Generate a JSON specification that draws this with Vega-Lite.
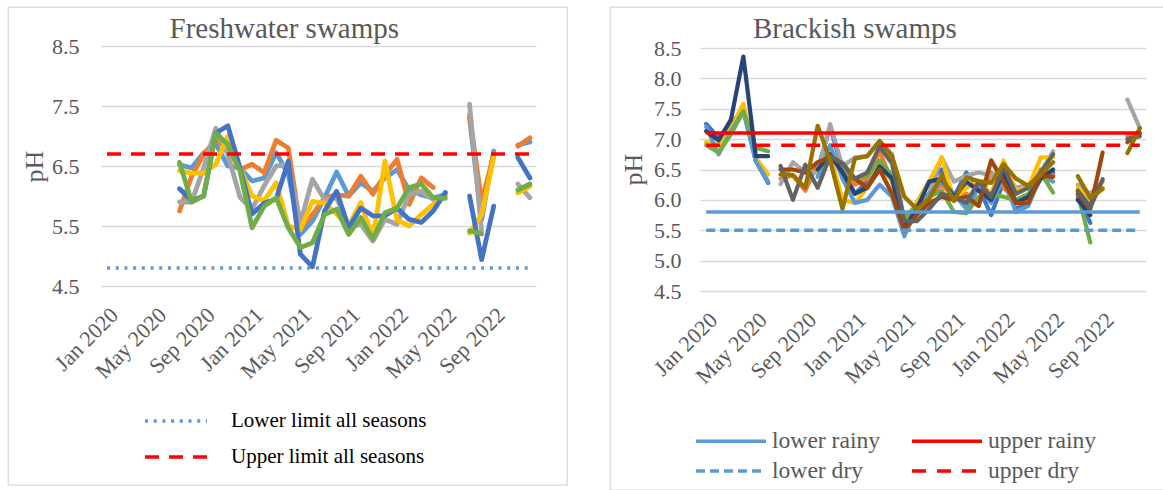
{
"$schema":"https://vega.github.io/schema/vega-lite/v6.json",
"padding":{"left":7,"top":6,"right":0,"bottom":0},
"spacing":41,
"background":"white",
"config":{"view":{"stroke":"#d9d9d9","strokeWidth":1.3},"font":"Liberation Serif"},
"resolve":{"scale":{"color":"independent","strokeDash":"independent"},"legend":{"color":"independent","strokeDash":"independent"}},
"datasets":{
"freshLim":[{"name":"Lower limit all seasons","y":4.8,"a":"Jan 2020","b":"Dec 2022"},{"name":"Upper limit all seasons","y":6.7,"a":"Jan 2020","b":"Dec 2022"}],
"brackLim":[{"name":"lower rainy","y":5.8,"a":"Jan 2020","b":"Dec 2022"},{"name":"upper rainy","y":7.1,"a":"Jan 2020","b":"Dec 2022"},{"name":"lower dry","y":5.5,"a":"Jan 2020","b":"Dec 2022"},{"name":"upper dry","y":6.9,"a":"Jan 2020","b":"Dec 2022"}],
"fresh":[
{"s":"LB","m":"Jul 2020","v":6.52},{"s":"LB","m":"Aug 2020","v":6.47},{"s":"LB","m":"Sep 2020","v":6.72},{"s":"LB","m":"Oct 2020","v":6.87},{"s":"LB","m":"Nov 2020","v":6.5},{"s":"LB","m":"Dec 2020","v":6.47},{"s":"LB","m":"Jan 2021","v":6.25},{"s":"LB","m":"Feb 2021","v":6.3},{"s":"LB","m":"Mar 2021","v":6.72},{"s":"LB","m":"Apr 2021","v":6.36},{"s":"LB","m":"May 2021","v":5.36},{"s":"LB","m":"Jun 2021","v":5.58},{"s":"LB","m":"Jul 2021","v":5.97},{"s":"LB","m":"Aug 2021","v":6.4},{"s":"LB","m":"Sep 2021","v":6.0},{"s":"LB","m":"Oct 2021","v":6.22},{"s":"LB","m":"Nov 2021","v":6.08},{"s":"LB","m":"Dec 2021","v":6.3},{"s":"LB","m":"Jan 2022","v":6.44},{"s":"LB","m":"Feb 2022","v":6.1},{"s":"LB","m":"Mar 2022","v":6.02},{"s":"LB","m":"Apr 2022","v":5.97},{"s":"LB","m":"May 2022","v":6.02},{"s":"LB","m":"Jun 2022","v":null},{"s":"LB","m":"Jul 2022","v":7.3},{"s":"LB","m":"Aug 2022","v":5.6},{"s":"LB","m":"Sep 2022","v":6.75},{"s":"LB","m":"Oct 2022","v":null},{"s":"LB","m":"Nov 2022","v":6.85},{"s":"LB","m":"Dec 2022","v":6.9},
{"s":"OR","m":"Jul 2020","v":5.75},{"s":"OR","m":"Aug 2020","v":6.33},{"s":"OR","m":"Sep 2020","v":6.7},{"s":"OR","m":"Oct 2020","v":6.93},{"s":"OR","m":"Nov 2020","v":6.8},{"s":"OR","m":"Dec 2020","v":6.44},{"s":"OR","m":"Jan 2021","v":6.53},{"s":"OR","m":"Feb 2021","v":6.39},{"s":"OR","m":"Mar 2021","v":6.93},{"s":"OR","m":"Apr 2021","v":6.8},{"s":"OR","m":"May 2021","v":5.47},{"s":"OR","m":"Jun 2021","v":5.69},{"s":"OR","m":"Jul 2021","v":5.97},{"s":"OR","m":"Aug 2021","v":6.02},{"s":"OR","m":"Sep 2021","v":6.0},{"s":"OR","m":"Oct 2021","v":6.33},{"s":"OR","m":"Nov 2021","v":6.03},{"s":"OR","m":"Dec 2021","v":6.36},{"s":"OR","m":"Jan 2022","v":6.61},{"s":"OR","m":"Feb 2022","v":5.86},{"s":"OR","m":"Mar 2022","v":6.3},{"s":"OR","m":"Apr 2022","v":6.14},{"s":"OR","m":"Jun 2022","v":null},{"s":"OR","m":"Jul 2022","v":7.36},{"s":"OR","m":"Aug 2022","v":5.9},{"s":"OR","m":"Sep 2022","v":6.69},{"s":"OR","m":"Oct 2022","v":null},{"s":"OR","m":"Nov 2022","v":6.83},{"s":"OR","m":"Dec 2022","v":6.97},
{"s":"GR","m":"Jul 2020","v":5.9},{"s":"GR","m":"Aug 2020","v":5.9},{"s":"GR","m":"Sep 2020","v":6.47},{"s":"GR","m":"Oct 2020","v":7.13},{"s":"GR","m":"Nov 2020","v":6.69},{"s":"GR","m":"Dec 2020","v":5.98},{"s":"GR","m":"Jan 2021","v":5.78},{"s":"GR","m":"Feb 2021","v":6.17},{"s":"GR","m":"Mar 2021","v":6.5},{"s":"GR","m":"Apr 2021","v":6.52},{"s":"GR","m":"May 2021","v":5.55},{"s":"GR","m":"Jun 2021","v":6.28},{"s":"GR","m":"Jul 2021","v":5.94},{"s":"GR","m":"Aug 2021","v":5.97},{"s":"GR","m":"Sep 2021","v":5.47},{"s":"GR","m":"Oct 2021","v":5.53},{"s":"GR","m":"Nov 2021","v":5.25},{"s":"GR","m":"Dec 2021","v":5.61},{"s":"GR","m":"Jan 2022","v":5.53},{"s":"GR","m":"Feb 2022","v":6.03},{"s":"GR","m":"Mar 2022","v":6.08},{"s":"GR","m":"Apr 2022","v":5.94},{"s":"GR","m":"Jun 2022","v":null},{"s":"GR","m":"Jul 2022","v":7.53},{"s":"GR","m":"Aug 2022","v":5.41},{"s":"GR","m":"Oct 2022","v":null},{"s":"GR","m":"Nov 2022","v":6.2},{"s":"GR","m":"Dec 2022","v":5.97},
{"s":"YE","m":"Jul 2020","v":6.42},{"s":"YE","m":"Aug 2020","v":6.38},{"s":"YE","m":"Sep 2020","v":6.38},{"s":"YE","m":"Oct 2020","v":6.53},{"s":"YE","m":"Nov 2020","v":7.0},{"s":"YE","m":"Dec 2020","v":6.47},{"s":"YE","m":"Jan 2021","v":6.0},{"s":"YE","m":"Feb 2021","v":5.92},{"s":"YE","m":"Mar 2021","v":6.22},{"s":"YE","m":"Apr 2021","v":5.5},{"s":"YE","m":"May 2021","v":5.44},{"s":"YE","m":"Jun 2021","v":5.91},{"s":"YE","m":"Jul 2021","v":5.88},{"s":"YE","m":"Aug 2021","v":5.7},{"s":"YE","m":"Sep 2021","v":5.5},{"s":"YE","m":"Oct 2021","v":5.89},{"s":"YE","m":"Nov 2021","v":5.3},{"s":"YE","m":"Dec 2021","v":6.58},{"s":"YE","m":"Jan 2022","v":5.6},{"s":"YE","m":"Feb 2022","v":5.5},{"s":"YE","m":"Mar 2022","v":5.69},{"s":"YE","m":"Apr 2022","v":5.86},{"s":"YE","m":"May 2022","v":6.0},{"s":"YE","m":"Jun 2022","v":null},{"s":"YE","m":"Jul 2022","v":5.38},{"s":"YE","m":"Aug 2022","v":5.69},{"s":"YE","m":"Sep 2022","v":6.64},{"s":"YE","m":"Oct 2022","v":null},{"s":"YE","m":"Nov 2022","v":6.05},{"s":"YE","m":"Dec 2022","v":6.16},
{"s":"BL","m":"Jul 2020","v":6.12},{"s":"BL","m":"Aug 2020","v":5.92},{"s":"BL","m":"Sep 2020","v":6.0},{"s":"BL","m":"Oct 2020","v":7.05},{"s":"BL","m":"Nov 2020","v":7.17},{"s":"BL","m":"Dec 2020","v":6.47},{"s":"BL","m":"Jan 2021","v":5.7},{"s":"BL","m":"Feb 2021","v":5.88},{"s":"BL","m":"Mar 2021","v":5.95},{"s":"BL","m":"Apr 2021","v":6.58},{"s":"BL","m":"May 2021","v":5.03},{"s":"BL","m":"Jun 2021","v":4.82},{"s":"BL","m":"Jul 2021","v":5.75},{"s":"BL","m":"Aug 2021","v":6.08},{"s":"BL","m":"Sep 2021","v":5.47},{"s":"BL","m":"Oct 2021","v":5.8},{"s":"BL","m":"Nov 2021","v":5.67},{"s":"BL","m":"Dec 2021","v":5.67},{"s":"BL","m":"Jan 2022","v":5.8},{"s":"BL","m":"Feb 2022","v":5.61},{"s":"BL","m":"Mar 2022","v":5.56},{"s":"BL","m":"Apr 2022","v":5.75},{"s":"BL","m":"May 2022","v":6.06},{"s":"BL","m":"Jun 2022","v":null},{"s":"BL","m":"Jul 2022","v":6.0},{"s":"BL","m":"Aug 2022","v":4.94},{"s":"BL","m":"Sep 2022","v":5.83},{"s":"BL","m":"Oct 2022","v":null},{"s":"BL","m":"Nov 2022","v":6.64},{"s":"BL","m":"Dec 2022","v":6.3},
{"s":"GN","m":"Jul 2020","v":6.56},{"s":"GN","m":"Aug 2020","v":5.9},{"s":"GN","m":"Sep 2020","v":6.0},{"s":"GN","m":"Oct 2020","v":7.05},{"s":"GN","m":"Nov 2020","v":6.86},{"s":"GN","m":"Dec 2020","v":6.42},{"s":"GN","m":"Jan 2021","v":5.47},{"s":"GN","m":"Feb 2021","v":5.83},{"s":"GN","m":"Mar 2021","v":5.97},{"s":"GN","m":"Apr 2021","v":5.47},{"s":"GN","m":"May 2021","v":5.14},{"s":"GN","m":"Jun 2021","v":5.22},{"s":"GN","m":"Jul 2021","v":5.69},{"s":"GN","m":"Aug 2021","v":5.78},{"s":"GN","m":"Sep 2021","v":5.36},{"s":"GN","m":"Oct 2021","v":5.64},{"s":"GN","m":"Nov 2021","v":5.28},{"s":"GN","m":"Dec 2021","v":5.72},{"s":"GN","m":"Jan 2022","v":5.8},{"s":"GN","m":"Feb 2022","v":6.14},{"s":"GN","m":"Mar 2022","v":6.2},{"s":"GN","m":"Apr 2022","v":5.97},{"s":"GN","m":"May 2022","v":5.96},{"s":"GN","m":"Jun 2022","v":null},{"s":"GN","m":"Jul 2022","v":5.42},{"s":"GN","m":"Aug 2022","v":5.37},{"s":"GN","m":"Oct 2022","v":null},{"s":"GN","m":"Nov 2022","v":6.1},{"s":"GN","m":"Dec 2022","v":6.2}
],
"brack":[
{"s":"BL","m":"Jan 2020","v":7.25},{"s":"BL","m":"Feb 2020","v":7.02},{"s":"BL","m":"Mar 2020","v":7.25},{"s":"BL","m":"Apr 2020","v":7.5},{"s":"BL","m":"May 2020","v":6.64},{"s":"BL","m":"Jun 2020","v":6.28},{"s":"BL","m":"Jul 2020","v":null},{"s":"BL","m":"Oct 2020","v":6.5},{"s":"BL","m":"Nov 2020","v":7.2},{"s":"BL","m":"Dec 2020","v":6.5},{"s":"BL","m":"Jan 2021","v":6.1},{"s":"BL","m":"Feb 2021","v":6.3},{"s":"BL","m":"Mar 2021","v":6.6},{"s":"BL","m":"Apr 2021","v":6.4},{"s":"BL","m":"May 2021","v":5.6},{"s":"BL","m":"Jun 2021","v":5.95},{"s":"BL","m":"Jul 2021","v":6.3},{"s":"BL","m":"Aug 2021","v":6.5},{"s":"BL","m":"Sep 2021","v":6.05},{"s":"BL","m":"Oct 2021","v":6.45},{"s":"BL","m":"Nov 2021","v":6.2},{"s":"BL","m":"Dec 2021","v":5.75},{"s":"BL","m":"Jan 2022","v":6.3},{"s":"BL","m":"Feb 2022","v":5.85},{"s":"BL","m":"Mar 2022","v":5.95},{"s":"BL","m":"Apr 2022","v":6.35},{"s":"BL","m":"May 2022","v":6.45},{"s":"BL","m":"Jun 2022","v":null},{"s":"BL","m":"Jul 2022","v":6.05},{"s":"BL","m":"Aug 2022","v":5.62},
{"s":"OR","m":"Jul 2020","v":6.35},{"s":"OR","m":"Aug 2020","v":6.4},{"s":"OR","m":"Sep 2020","v":6.15},{"s":"OR","m":"Oct 2020","v":6.6},{"s":"OR","m":"Nov 2020","v":6.65},{"s":"OR","m":"Dec 2020","v":6.6},{"s":"OR","m":"Jan 2021","v":6.25},{"s":"OR","m":"Feb 2021","v":6.35},{"s":"OR","m":"Mar 2021","v":6.8},{"s":"OR","m":"Apr 2021","v":6.3},{"s":"OR","m":"May 2021","v":5.6},{"s":"OR","m":"Jun 2021","v":5.85},{"s":"OR","m":"Jul 2021","v":6.05},{"s":"OR","m":"Aug 2021","v":6.25},{"s":"OR","m":"Sep 2021","v":6.05},{"s":"OR","m":"Oct 2021","v":6.1},{"s":"OR","m":"Nov 2021","v":5.95},{"s":"OR","m":"Dec 2021","v":6.45},{"s":"OR","m":"Jan 2022","v":6.2},{"s":"OR","m":"Feb 2022","v":6.0},{"s":"OR","m":"Mar 2022","v":6.0},{"s":"OR","m":"Apr 2022","v":6.5},{"s":"OR","m":"May 2022","v":6.4},{"s":"OR","m":"Jun 2022","v":null},{"s":"OR","m":"Jul 2022","v":6.0},{"s":"OR","m":"Aug 2022","v":5.9},{"s":"OR","m":"Oct 2022","v":null},{"s":"OR","m":"Nov 2022","v":7.05},{"s":"OR","m":"Dec 2022","v":7.1},
{"s":"GR","m":"Jul 2020","v":6.26},{"s":"GR","m":"Aug 2020","v":6.62},{"s":"GR","m":"Sep 2020","v":6.45},{"s":"GR","m":"Oct 2020","v":6.45},{"s":"GR","m":"Nov 2020","v":7.25},{"s":"GR","m":"Dec 2020","v":6.55},{"s":"GR","m":"Jan 2021","v":6.7},{"s":"GR","m":"Feb 2021","v":6.72},{"s":"GR","m":"Mar 2021","v":6.95},{"s":"GR","m":"Apr 2021","v":6.75},{"s":"GR","m":"May 2021","v":5.65},{"s":"GR","m":"Jun 2021","v":5.95},{"s":"GR","m":"Jul 2021","v":6.1},{"s":"GR","m":"Aug 2021","v":6.7},{"s":"GR","m":"Sep 2021","v":6.3},{"s":"GR","m":"Oct 2021","v":6.4},{"s":"GR","m":"Nov 2021","v":6.45},{"s":"GR","m":"Dec 2021","v":6.4},{"s":"GR","m":"Jan 2022","v":6.5},{"s":"GR","m":"Feb 2022","v":6.2},{"s":"GR","m":"Mar 2022","v":6.25},{"s":"GR","m":"Apr 2022","v":6.45},{"s":"GR","m":"May 2022","v":6.8},{"s":"GR","m":"Jun 2022","v":null},{"s":"GR","m":"Jul 2022","v":6.25},{"s":"GR","m":"Aug 2022","v":6.1},{"s":"GR","m":"Sep 2022","v":6.3},{"s":"GR","m":"Oct 2022","v":null},{"s":"GR","m":"Nov 2022","v":7.65},{"s":"GR","m":"Dec 2022","v":7.18},
{"s":"YE","m":"Jan 2020","v":6.95},{"s":"YE","m":"Feb 2020","v":6.91},{"s":"YE","m":"Mar 2020","v":7.19},{"s":"YE","m":"Apr 2020","v":7.58},{"s":"YE","m":"May 2020","v":6.69},{"s":"YE","m":"Jun 2020","v":6.42},{"s":"YE","m":"Jul 2020","v":null},{"s":"YE","m":"Oct 2020","v":6.45},{"s":"YE","m":"Nov 2020","v":6.75},{"s":"YE","m":"Dec 2020","v":6.0},{"s":"YE","m":"Jan 2021","v":5.95},{"s":"YE","m":"Feb 2021","v":6.2},{"s":"YE","m":"Mar 2021","v":6.6},{"s":"YE","m":"Apr 2021","v":6.3},{"s":"YE","m":"May 2021","v":5.65},{"s":"YE","m":"Jun 2021","v":5.95},{"s":"YE","m":"Jul 2021","v":6.3},{"s":"YE","m":"Aug 2021","v":6.7},{"s":"YE","m":"Sep 2021","v":6.0},{"s":"YE","m":"Oct 2021","v":6.2},{"s":"YE","m":"Nov 2021","v":6.3},{"s":"YE","m":"Dec 2021","v":6.1},{"s":"YE","m":"Jan 2022","v":6.65},{"s":"YE","m":"Feb 2022","v":6.15},{"s":"YE","m":"Mar 2022","v":6.2},{"s":"YE","m":"Apr 2022","v":6.7},{"s":"YE","m":"May 2022","v":6.7},{"s":"YE","m":"Jun 2022","v":null},{"s":"YE","m":"Jul 2022","v":6.2},{"s":"YE","m":"Aug 2022","v":6.0},{"s":"YE","m":"Sep 2022","v":6.2},
{"s":"LB","m":"Jan 2020","v":7.2},{"s":"LB","m":"Feb 2020","v":6.75},{"s":"LB","m":"Mar 2020","v":7.13},{"s":"LB","m":"Apr 2020","v":7.46},{"s":"LB","m":"May 2020","v":6.64},{"s":"LB","m":"Jun 2020","v":6.3},{"s":"LB","m":"Jul 2020","v":null},{"s":"LB","m":"Oct 2020","v":6.38},{"s":"LB","m":"Nov 2020","v":6.9},{"s":"LB","m":"Dec 2020","v":6.35},{"s":"LB","m":"Jan 2021","v":5.95},{"s":"LB","m":"Feb 2021","v":6.0},{"s":"LB","m":"Mar 2021","v":6.25},{"s":"LB","m":"Apr 2021","v":6.05},{"s":"LB","m":"May 2021","v":5.4},{"s":"LB","m":"Jun 2021","v":5.9},{"s":"LB","m":"Jul 2021","v":6.1},{"s":"LB","m":"Aug 2021","v":6.3},{"s":"LB","m":"Sep 2021","v":6.1},{"s":"LB","m":"Oct 2021","v":5.85},{"s":"LB","m":"Nov 2021","v":6.2},{"s":"LB","m":"Dec 2021","v":5.95},{"s":"LB","m":"Jan 2022","v":6.35},{"s":"LB","m":"Feb 2022","v":5.8},{"s":"LB","m":"Mar 2022","v":5.9},{"s":"LB","m":"Apr 2022","v":6.4},{"s":"LB","m":"May 2022","v":6.3},{"s":"LB","m":"Jun 2022","v":null},{"s":"LB","m":"Jul 2022","v":6.15},{"s":"LB","m":"Aug 2022","v":5.9},
{"s":"GN","m":"Jan 2020","v":6.9},{"s":"GN","m":"Feb 2020","v":6.78},{"s":"GN","m":"Mar 2020","v":7.08},{"s":"GN","m":"Apr 2020","v":7.46},{"s":"GN","m":"May 2020","v":6.86},{"s":"GN","m":"Jun 2020","v":6.8},{"s":"GN","m":"Jul 2020","v":null},{"s":"GN","m":"Oct 2020","v":6.5},{"s":"GN","m":"Nov 2020","v":6.65},{"s":"GN","m":"Dec 2020","v":6.55},{"s":"GN","m":"Jan 2021","v":6.35},{"s":"GN","m":"Feb 2021","v":6.4},{"s":"GN","m":"Mar 2021","v":6.65},{"s":"GN","m":"Apr 2021","v":6.4},{"s":"GN","m":"May 2021","v":5.7},{"s":"GN","m":"Jun 2021","v":5.9},{"s":"GN","m":"Jul 2021","v":6.05},{"s":"GN","m":"Aug 2021","v":6.15},{"s":"GN","m":"Sep 2021","v":5.8},{"s":"GN","m":"Oct 2021","v":5.78},{"s":"GN","m":"Nov 2021","v":6.05},{"s":"GN","m":"Dec 2021","v":6.1},{"s":"GN","m":"Jan 2022","v":6.05},{"s":"GN","m":"Feb 2022","v":6.0},{"s":"GN","m":"Mar 2022","v":6.1},{"s":"GN","m":"Apr 2022","v":6.45},{"s":"GN","m":"May 2022","v":6.12},{"s":"GN","m":"Jun 2022","v":null},{"s":"GN","m":"Jul 2022","v":6.1},{"s":"GN","m":"Aug 2022","v":5.3},
{"s":"DB","m":"Jan 2020","v":7.13},{"s":"DB","m":"Feb 2020","v":6.98},{"s":"DB","m":"Mar 2020","v":7.32},{"s":"DB","m":"Apr 2020","v":8.36},{"s":"DB","m":"May 2020","v":6.72},{"s":"DB","m":"Jun 2020","v":6.72},{"s":"DB","m":"Jul 2020","v":null},{"s":"DB","m":"Oct 2020","v":6.5},{"s":"DB","m":"Nov 2020","v":6.75},{"s":"DB","m":"Dec 2020","v":6.45},{"s":"DB","m":"Jan 2021","v":6.1},{"s":"DB","m":"Feb 2021","v":6.2},{"s":"DB","m":"Mar 2021","v":6.55},{"s":"DB","m":"Apr 2021","v":6.35},{"s":"DB","m":"May 2021","v":5.55},{"s":"DB","m":"Jun 2021","v":5.85},{"s":"DB","m":"Jul 2021","v":6.3},{"s":"DB","m":"Aug 2021","v":6.35},{"s":"DB","m":"Sep 2021","v":6.05},{"s":"DB","m":"Oct 2021","v":6.3},{"s":"DB","m":"Nov 2021","v":6.15},{"s":"DB","m":"Dec 2021","v":6.0},{"s":"DB","m":"Jan 2022","v":6.45},{"s":"DB","m":"Feb 2022","v":5.95},{"s":"DB","m":"Mar 2022","v":6.05},{"s":"DB","m":"Apr 2022","v":6.35},{"s":"DB","m":"May 2022","v":6.5},{"s":"DB","m":"Jun 2022","v":null},{"s":"DB","m":"Jul 2022","v":6.0},{"s":"DB","m":"Aug 2022","v":5.75},
{"s":"BR","m":"Jul 2020","v":6.5},{"s":"BR","m":"Aug 2020","v":6.5},{"s":"BR","m":"Sep 2020","v":6.45},{"s":"BR","m":"Oct 2020","v":6.62},{"s":"BR","m":"Nov 2020","v":6.7},{"s":"BR","m":"Dec 2020","v":6.6},{"s":"BR","m":"Jan 2021","v":6.35},{"s":"BR","m":"Feb 2021","v":6.2},{"s":"BR","m":"Mar 2021","v":6.5},{"s":"BR","m":"Apr 2021","v":6.1},{"s":"BR","m":"May 2021","v":5.5},{"s":"BR","m":"Jun 2021","v":5.75},{"s":"BR","m":"Jul 2021","v":5.95},{"s":"BR","m":"Aug 2021","v":6.05},{"s":"BR","m":"Sep 2021","v":6.0},{"s":"BR","m":"Oct 2021","v":6.05},{"s":"BR","m":"Nov 2021","v":5.9},{"s":"BR","m":"Dec 2021","v":6.65},{"s":"BR","m":"Jan 2022","v":6.3},{"s":"BR","m":"Feb 2022","v":5.95},{"s":"BR","m":"Mar 2022","v":5.95},{"s":"BR","m":"Apr 2022","v":6.4},{"s":"BR","m":"May 2022","v":6.38},{"s":"BR","m":"Jun 2022","v":null},{"s":"BR","m":"Jul 2022","v":6.1},{"s":"BR","m":"Aug 2022","v":5.85},{"s":"BR","m":"Sep 2022","v":6.78},{"s":"BR","m":"Oct 2022","v":null},{"s":"BR","m":"Nov 2022","v":6.95},{"s":"BR","m":"Dec 2022","v":7.1},
{"s":"DG","m":"Jul 2020","v":6.56},{"s":"DG","m":"Aug 2020","v":6.0},{"s":"DG","m":"Sep 2020","v":6.58},{"s":"DG","m":"Oct 2020","v":6.2},{"s":"DG","m":"Nov 2020","v":6.72},{"s":"DG","m":"Dec 2020","v":6.6},{"s":"DG","m":"Jan 2021","v":6.35},{"s":"DG","m":"Feb 2021","v":6.45},{"s":"DG","m":"Mar 2021","v":6.88},{"s":"DG","m":"Apr 2021","v":6.6},{"s":"DG","m":"May 2021","v":5.65},{"s":"DG","m":"Jun 2021","v":5.65},{"s":"DG","m":"Jul 2021","v":5.85},{"s":"DG","m":"Aug 2021","v":6.1},{"s":"DG","m":"Sep 2021","v":6.05},{"s":"DG","m":"Oct 2021","v":5.95},{"s":"DG","m":"Nov 2021","v":6.3},{"s":"DG","m":"Dec 2021","v":6.05},{"s":"DG","m":"Jan 2022","v":6.55},{"s":"DG","m":"Feb 2022","v":6.1},{"s":"DG","m":"Mar 2022","v":6.2},{"s":"DG","m":"Apr 2022","v":6.45},{"s":"DG","m":"May 2022","v":6.75},{"s":"DG","m":"Jun 2022","v":null},{"s":"DG","m":"Jul 2022","v":6.15},{"s":"DG","m":"Aug 2022","v":5.87},{"s":"DG","m":"Sep 2022","v":6.34},{"s":"DG","m":"Oct 2022","v":null},{"s":"DG","m":"Nov 2022","v":7.0},{"s":"DG","m":"Dec 2022","v":7.05},
{"s":"GD","m":"Jul 2020","v":6.42},{"s":"GD","m":"Aug 2020","v":6.41},{"s":"GD","m":"Sep 2020","v":6.2},{"s":"GD","m":"Oct 2020","v":7.22},{"s":"GD","m":"Nov 2020","v":6.65},{"s":"GD","m":"Dec 2020","v":5.85},{"s":"GD","m":"Jan 2021","v":6.68},{"s":"GD","m":"Feb 2021","v":6.72},{"s":"GD","m":"Mar 2021","v":6.97},{"s":"GD","m":"Apr 2021","v":6.72},{"s":"GD","m":"May 2021","v":6.05},{"s":"GD","m":"Jun 2021","v":5.85},{"s":"GD","m":"Jul 2021","v":6.02},{"s":"GD","m":"Aug 2021","v":6.4},{"s":"GD","m":"Sep 2021","v":5.98},{"s":"GD","m":"Oct 2021","v":6.37},{"s":"GD","m":"Nov 2021","v":6.31},{"s":"GD","m":"Dec 2021","v":6.28},{"s":"GD","m":"Jan 2022","v":6.59},{"s":"GD","m":"Feb 2022","v":6.35},{"s":"GD","m":"Mar 2022","v":6.23},{"s":"GD","m":"Apr 2022","v":6.42},{"s":"GD","m":"May 2022","v":6.62},{"s":"GD","m":"Jun 2022","v":null},{"s":"GD","m":"Jul 2022","v":6.39},{"s":"GD","m":"Aug 2022","v":6.03},{"s":"GD","m":"Sep 2022","v":6.18},{"s":"GD","m":"Oct 2022","v":null},{"s":"GD","m":"Nov 2022","v":6.77},{"s":"GD","m":"Dec 2022","v":7.18}
]
},
"hconcat":[
{
"width":559,"height":478,
"layer":[
{"data":{"name":"fresh"},
"mark":{"type":"line","strokeWidth":4.8,"strokeJoin":"round","strokeCap":"round","invalid":"break-paths-filter-domains"},
"encoding":{
"x":{"field":"m","type":"ordinal","sort":["Jan 2020","Feb 2020","Mar 2020","Apr 2020","May 2020","Jun 2020","Jul 2020","Aug 2020","Sep 2020","Oct 2020","Nov 2020","Dec 2020","Jan 2021","Feb 2021","Mar 2021","Apr 2021","May 2021","Jun 2021","Jul 2021","Aug 2021","Sep 2021","Oct 2021","Nov 2021","Dec 2021","Jan 2022","Feb 2022","Mar 2022","Apr 2022","May 2022","Jun 2022","Jul 2022","Aug 2022","Sep 2022","Oct 2022","Nov 2022","Dec 2022"],
"scale":{"type":"point","domain":["Jan 2020","Feb 2020","Mar 2020","Apr 2020","May 2020","Jun 2020","Jul 2020","Aug 2020","Sep 2020","Oct 2020","Nov 2020","Dec 2020","Jan 2021","Feb 2021","Mar 2021","Apr 2021","May 2021","Jun 2021","Jul 2021","Aug 2021","Sep 2021","Oct 2021","Nov 2021","Dec 2021","Jan 2022","Feb 2022","Mar 2022","Apr 2022","May 2022","Jun 2022","Jul 2022","Aug 2022","Sep 2022","Oct 2022","Nov 2022","Dec 2022"],"range":[93,528],"padding":0.5},
"axis":{"values":["Jan 2020","May 2020","Sep 2020","Jan 2021","May 2021","Sep 2021","Jan 2022","May 2022","Sep 2022"],"labelAngle":-45,"labelAlign":"right","labelBaseline":"top","labelPadding":18,"offset":-199,"domain":false,"ticks":false,"grid":false,"title":null,"labelFont":"Liberation Serif","labelFontSize":22,"labelColor":"#595959"}},
"y":{"field":"v","type":"quantitative","scale":{"domain":[4.5,8.5],"range":[279,39],"nice":false,"zero":false},
"axis":{"values":[4.5,5.5,6.5,7.5,8.5],"format":".1f","offset":-93,"grid":true,"gridColor":"#d9d9d9","gridWidth":1.3,"domain":false,"ticks":false,"labelPadding":22,"labelFont":"Liberation Serif","labelFontSize":22,"labelColor":"#595959","title":"pH","titleFont":"Liberation Serif","titleFontSize":26,"titleFontWeight":"normal","titleColor":"#595959","titleX":-67,"titleY":159,"titleAngle":-90,"titleAlign":"center","titleBaseline":"middle"}},
"color":{"field":"s","type":"nominal","scale":{"domain":["LB","OR","GR","YE","BL","GN"],"range":["#5B9BD5","#ED7D31","#A5A5A5","#FFC000","#4472C4","#70AD47"]},"legend":null}
}},
{"data":{"name":"freshLim"},
"mark":{"type":"rule","strokeWidth":3.5},
"encoding":{
"x":{"field":"a","type":"ordinal"},
"x2":{"field":"b"},
"y":{"field":"y","type":"quantitative","scale":{"domain":[4.5,8.5],"range":[279,39],"nice":false,"zero":false}},
"color":{"field":"name","type":"nominal","scale":{"domain":["Lower limit all seasons","Upper limit all seasons"],"range":["#5B9BD5","#FF0000"]},
"legend":{"orient":"none","legendX":135,"legendY":404,"title":null,"direction":"vertical","symbolType":"stroke","symbolSize":3844,"symbolStrokeWidth":3.5,"labelFont":"Liberation Serif","labelFontSize":21,"labelColor":"#000000","labelOffset":22,"clipHeight":20,"rowPadding":15,"padding":0,"labelLimit":400}},
"strokeDash":{"field":"name","type":"nominal","scale":{"domain":["Lower limit all seasons","Upper limit all seasons"],"range":[[3,5.7],[14,10]]},
"legend":{"orient":"none","legendX":135,"legendY":404,"title":null,"direction":"vertical","symbolType":"stroke","symbolSize":3844,"symbolStrokeWidth":3.5,"labelFont":"Liberation Serif","labelFontSize":21,"labelColor":"#000000","labelOffset":22,"clipHeight":20,"rowPadding":15,"padding":0,"labelLimit":400}}
}},
{"data":{"values":[{"t":"Freshwater swamps"}]},
"mark":{"type":"text","font":"Liberation Serif","fontSize":29,"color":"#595959","align":"center","baseline":"alphabetic","dx":-4},
"encoding":{
"x":{"datum":"Apr 2021","type":"ordinal"},
"y":{"datum":8.63,"type":"quantitative","scale":{"domain":[4.5,8.5],"range":[279,39],"nice":false,"zero":false}},
"text":{"field":"t"}
}}
],
"resolve":{"scale":{"color":"independent","strokeDash":"independent"},"legend":{"color":"independent","strokeDash":"independent"}}
},
{
"width":554,"height":483,
"layer":[
{"data":{"name":"brack"},
"mark":{"type":"line","strokeWidth":4.2,"strokeJoin":"round","strokeCap":"round","invalid":"break-paths-filter-domains"},
"encoding":{
"x":{"field":"m","type":"ordinal","sort":["Jan 2020","Feb 2020","Mar 2020","Apr 2020","May 2020","Jun 2020","Jul 2020","Aug 2020","Sep 2020","Oct 2020","Nov 2020","Dec 2020","Jan 2021","Feb 2021","Mar 2021","Apr 2021","May 2021","Jun 2021","Jul 2021","Aug 2021","Sep 2021","Oct 2021","Nov 2021","Dec 2021","Jan 2022","Feb 2022","Mar 2022","Apr 2022","May 2022","Jun 2022","Jul 2022","Aug 2022","Sep 2022","Oct 2022","Nov 2022","Dec 2022"],
"scale":{"type":"point","domain":["Jan 2020","Feb 2020","Mar 2020","Apr 2020","May 2020","Jun 2020","Jul 2020","Aug 2020","Sep 2020","Oct 2020","Nov 2020","Dec 2020","Jan 2021","Feb 2021","Mar 2021","Apr 2021","May 2021","Jun 2021","Jul 2021","Aug 2021","Sep 2021","Oct 2021","Nov 2021","Dec 2021","Jan 2022","Feb 2022","Mar 2022","Apr 2022","May 2022","Jun 2022","Jul 2022","Aug 2022","Sep 2022","Oct 2022","Nov 2022","Dec 2022"],"range":[90,536],"padding":0.5},
"axis":{"values":["Jan 2020","May 2020","Sep 2020","Jan 2021","May 2021","Sep 2021","Jan 2022","May 2022","Sep 2022"],"labelAngle":-45,"labelAlign":"right","labelBaseline":"top","labelPadding":18,"offset":-199,"domain":false,"ticks":false,"grid":false,"title":null,"labelFont":"Liberation Serif","labelFontSize":22,"labelColor":"#595959"}},
"y":{"field":"v","type":"quantitative","scale":{"domain":[4.5,8.5],"range":[284,41],"nice":false,"zero":false},
"axis":{"values":[4.5,5.0,5.5,6.0,6.5,7.0,7.5,8.0,8.5],"format":".1f","offset":-90,"grid":true,"gridColor":"#d9d9d9","gridWidth":1.3,"domain":false,"ticks":false,"labelPadding":19,"labelFont":"Liberation Serif","labelFontSize":22,"labelColor":"#595959","title":"pH","titleFont":"Liberation Serif","titleFontSize":26,"titleFontWeight":"normal","titleColor":"#595959","titleX":-67,"titleY":162,"titleAngle":-90,"titleAlign":"center","titleBaseline":"middle"}},
"color":{"field":"s","type":"nominal","scale":{"domain":["BL","OR","GR","YE","LB","GN","DB","BR","DG","GD"],"range":["#4472C4","#ED7D31","#A5A5A5","#FFC000","#5B9BD5","#70AD47","#264478","#9E480E","#636363","#997300"]},"legend":null}
}},
{"data":{"name":"brackLim"},
"mark":{"type":"rule","strokeWidth":3.5},
"encoding":{
"x":{"field":"a","type":"ordinal"},
"x2":{"field":"b"},
"y":{"field":"y","type":"quantitative","scale":{"domain":[4.5,8.5],"range":[284,41],"nice":false,"zero":false}},
"color":{"field":"name","type":"nominal","scale":{"domain":["lower rainy","upper rainy","lower dry","upper dry"],"range":["#5B9BD5","#FF0000","#5B9BD5","#FF0000"]},
"legend":{"orient":"none","legendX":84,"legendY":424,"title":null,"direction":"horizontal","columns":2,"symbolType":"stroke","symbolSize":4900,"symbolStrokeWidth":3.5,"labelFont":"Liberation Serif","labelFontSize":23.6,"labelColor":"#595959","labelOffset":4,"columnPadding":29,"clipHeight":20,"rowPadding":6,"padding":0,"labelLimit":400}},
"strokeDash":{"field":"name","type":"nominal","scale":{"domain":["lower rainy","upper rainy","lower dry","upper dry"],"range":[[1,0],[1,0],[9,5],[14,11]]},
"legend":{"orient":"none","legendX":84,"legendY":424,"title":null,"direction":"horizontal","columns":2,"symbolType":"stroke","symbolSize":4900,"symbolStrokeWidth":3.5,"labelFont":"Liberation Serif","labelFontSize":23.6,"labelColor":"#595959","labelOffset":4,"columnPadding":29,"clipHeight":20,"rowPadding":6,"padding":0,"labelLimit":400}}
}},
{"data":{"values":[{"t":"Brackish swamps"}]},
"mark":{"type":"text","font":"Liberation Serif","fontSize":29,"color":"#595959","align":"center","baseline":"alphabetic"},
"encoding":{
"x":{"datum":"Jan 2021","type":"ordinal"},
"y":{"datum":8.665,"type":"quantitative","scale":{"domain":[4.5,8.5],"range":[284,41],"nice":false,"zero":false}},
"text":{"field":"t"}
}}
],
"resolve":{"scale":{"color":"independent","strokeDash":"independent"},"legend":{"color":"independent","strokeDash":"independent"}}
}
]
}
